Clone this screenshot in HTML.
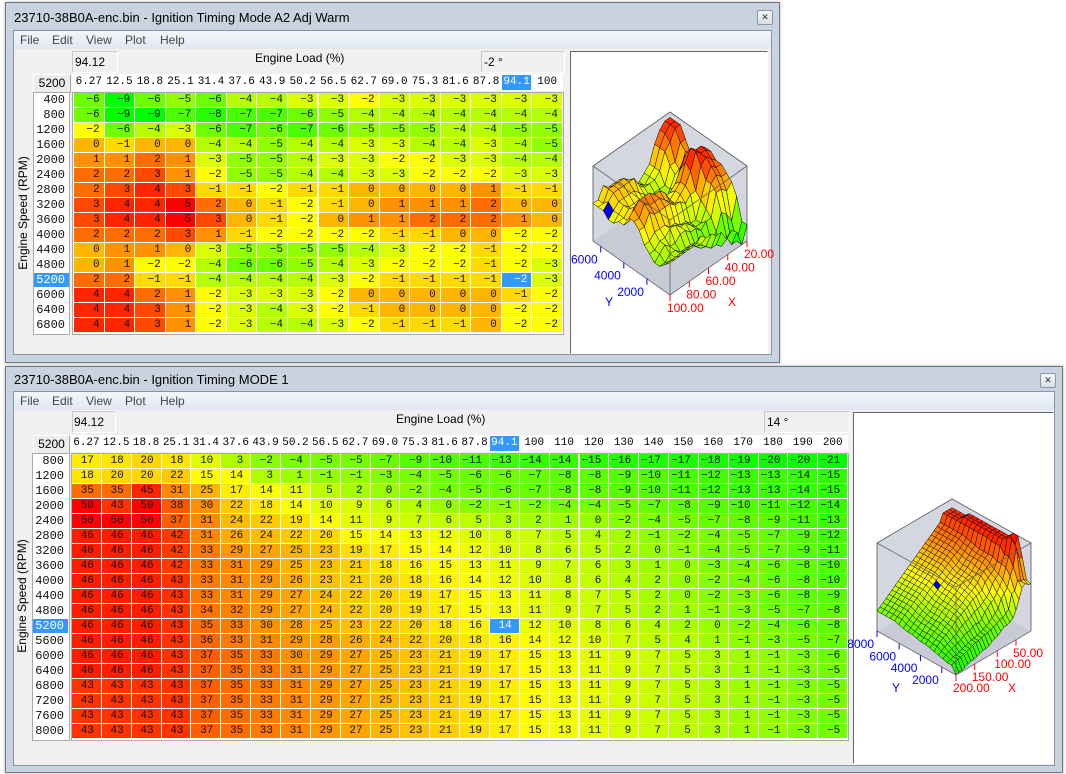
<!DOCTYPE html>
<html><head><meta charset="utf-8">
<style>
body{margin:0;width:1066px;height:774px;background:#fff;position:relative;overflow:hidden;font-family:"Liberation Sans",sans-serif;}
.win{position:absolute;background:#c9d3df;border:1px solid #6b7686;box-shadow:0 0 3px rgba(0,0,0,.3);}
.title{position:absolute;left:8px;top:7px;font-size:13px;color:#000;}
.close{position:absolute;width:14px;height:13px;border:1px solid #8a96a6;background:linear-gradient(#f4f6f9,#d8dee6);font-size:9px;text-align:center;line-height:13px;color:#333;border-radius:2px}
.client{position:absolute;background:#f0f0f0;border:1px solid #8794a6;}
.menu{position:absolute;left:0;right:0;top:0;height:18px;background:linear-gradient(#f4f7fb,#dfe7f1);font-size:12px;color:#444;}
.menu span{position:absolute;top:2px}
.a{position:absolute;white-space:nowrap;}
.box{position:absolute;background:#f0f0f0;border:1px solid #d6d6d6;border-color:#c8c8c8 #fff #fff #c8c8c8;font-size:12px;}
.cell{position:absolute;font-family:"Liberation Mono",monospace;font-size:11px;text-align:right;box-sizing:border-box;padding-right:4px;line-height:15px;height:15px;color:#111;}
.hd{position:absolute;font-family:"Liberation Mono",monospace;font-size:11px;text-align:center;line-height:15px;height:15px;}
</style></head><body>

<div class="win" style="left:5px;top:2px;width:773px;height:359px;">
 <div class="title">23710-38B0A-enc.bin - Ignition Timing Mode A2 Adj Warm</div>
 <div class="close" style="left:751px;top:7px;">✕</div>
</div>
<div class="client" style="left:13px;top:30px;width:757px;height:323px;">
 <div class="menu"><span style="left:6px">File</span><span style="left:38px">Edit</span><span style="left:72px">View</span><span style="left:111px">Plot</span><span style="left:146px">Help</span></div>
</div>
<div class="box" style="left:72px;top:51px;width:42px;height:20px;line-height:20px;padding-left:2px">94.12</div>
<div class="a" style="left:255px;top:51px;font-size:12px">Engine Load (%)</div>
<div class="box" style="left:481px;top:51px;width:80px;height:20px;line-height:20px;padding-left:2px">-2 °</div>
<div class="box" style="left:33px;top:74px;width:36px;height:17px;line-height:17px;text-align:center;background:#ececec;border-color:#fff #aaa #aaa #fff">5200</div>
<div class="a" style="left:72px;top:74px;width:491px;height:17px;background:#fff;"></div>
<div class="a" style="left:33px;top:92px;width:37px;height:243px;background:#fff;border:1px solid #aaa;box-sizing:border-box"></div>
<div class="a" style="left:72px;top:92px;width:492px;height:243px;background:#fff;border:1px solid #aaa;box-sizing:border-box"></div>
<div class="a" style="transform:translate(-50%,-50%) rotate(-90deg);left:23px;top:213px;font-size:12px;">Engine Speed (RPM)</div>
<div class="a" style="left:570px;top:51px;width:198px;height:303px;background:#fff;border:1px solid #333;border-color:#666 #fff #fff #666;box-sizing:border-box"></div>
<svg class="a" id="p1" style="left:0;top:0" width="1066" height="774"></svg>

<div class="win" style="left:5px;top:366px;width:1056px;height:405px;">
 <div class="title" style="top:5px">23710-38B0A-enc.bin - Ignition Timing MODE 1</div>
 <div class="close" style="left:1034px;top:6px;">✕</div>
</div>
<div class="client" style="left:13px;top:391px;width:1040px;height:373px;">
 <div class="menu"><span style="left:6px">File</span><span style="left:38px">Edit</span><span style="left:72px">View</span><span style="left:111px">Plot</span><span style="left:146px">Help</span></div>
</div>
<div class="box" style="left:72px;top:411px;width:41px;height:20px;line-height:20px;padding-left:1px">94.12</div>
<div class="a" style="left:396px;top:412px;font-size:12px">Engine Load (%)</div>
<div class="box" style="left:764px;top:411px;width:82px;height:20px;line-height:20px;padding-left:2px">14 °</div>
<div class="box" style="left:33px;top:435px;width:35px;height:17px;line-height:17px;text-align:center;background:#ececec;border-color:#fff #aaa #aaa #fff">5200</div>
<div class="a" style="left:71px;top:435px;width:777px;height:17px;background:#fff;"></div>
<div class="a" style="left:32px;top:453px;width:38px;height:288px;background:#fff;border:1px solid #aaa;box-sizing:border-box"></div>
<div class="a" style="left:71px;top:453px;width:778px;height:288px;background:#fff;border:1px solid #aaa;box-sizing:border-box"></div>
<div class="a" style="transform:translate(-50%,-50%) rotate(-90deg);left:22px;top:596px;font-size:12px;">Engine Speed (RPM)</div>
<div class="a" style="left:853px;top:412px;width:201px;height:352px;background:#fff;border:1px solid #333;border-color:#666 #fff #fff #666;box-sizing:border-box"></div>
<svg class="a" id="p2" style="left:0;top:0" width="1066" height="774"></svg>

<div id="tables"></div>

<script>
var T1={cols:["6.27","12.5","18.8","25.1","31.4","37.6","43.9","50.2","56.5","62.7","69.0","75.3","81.6","87.8","94.1","100"],
rows:[400,800,1200,1600,2000,2400,2800,3200,3600,4000,4400,4800,5200,6000,6400,6800],
d:[[-6,-9,-6,-5,-6,-4,-4,-3,-3,-2,-3,-3,-3,-3,-3,-3],
[-6,-9,-9,-7,-8,-7,-7,-6,-5,-4,-4,-4,-4,-4,-4,-4],
[-2,-6,-4,-3,-6,-7,-6,-7,-6,-5,-5,-5,-4,-4,-5,-5],
[0,-1,0,0,-4,-4,-5,-4,-4,-3,-3,-4,-4,-3,-4,-5],
[1,1,2,1,-3,-5,-5,-4,-3,-3,-2,-2,-3,-3,-4,-4],
[2,2,3,1,-2,-5,-5,-4,-4,-3,-3,-2,-2,-2,-3,-3],
[2,3,4,3,-1,-1,-2,-1,-1,0,0,0,0,1,-1,-1],
[3,4,4,5,2,0,-1,-2,-1,0,1,1,1,2,0,0],
[3,4,4,5,3,0,-1,-2,0,1,1,2,2,2,1,0],
[2,2,2,3,1,-1,-2,-2,-2,-2,-1,-1,0,0,-2,-2],
[0,1,1,0,-3,-5,-5,-5,-5,-4,-3,-2,-2,-1,-2,-2],
[0,1,-2,-2,-4,-6,-6,-5,-4,-3,-2,-2,-2,-1,-2,-3],
[2,2,-1,-1,-4,-4,-4,-4,-3,-2,-1,-1,-1,-1,-2,-3],
[4,4,2,1,-2,-3,-3,-3,-2,0,0,0,0,0,-1,-2],
[4,4,3,1,-2,-3,-4,-3,-2,-1,0,0,0,0,-2,-2],
[4,4,3,1,-2,-3,-4,-4,-3,-2,-1,-1,-1,0,-2,-2]],
x0:74,cw:30.56,y0:93,rh:15,hy:75,lx:34,lw:35,selC:14,selR:12,pad:4};
var R68=[43,43,43,43,37,35,33,31,29,27,25,23,21,19,17,15,13,11,9,7,5,3,1,-1,-3,-5];
var T2={cols:["6.27","12.5","18.8","25.1","31.4","37.6","43.9","50.2","56.5","62.7","69.0","75.3","81.6","87.8","94.1","100","110","120","130","140","150","160","170","180","190","200"],
rows:[800,1200,1600,2000,2400,2800,3200,3600,4000,4400,4800,5200,5600,6000,6400,6800,7200,7600,8000],
d:[[17,18,20,18,10,3,-2,-4,-5,-5,-7,-9,-10,-11,-13,-14,-14,-15,-16,-17,-17,-18,-19,-20,-20,-21],
[18,20,20,22,15,14,3,1,-1,-1,-3,-4,-5,-6,-6,-7,-8,-8,-9,-10,-11,-12,-13,-13,-14,-15],
[35,35,45,31,25,17,14,11,5,2,0,-2,-4,-5,-6,-7,-8,-8,-9,-10,-11,-12,-13,-13,-14,-15],
[50,43,50,38,30,22,18,14,10,9,6,4,0,-2,-1,-2,-4,-4,-5,-7,-8,-9,-10,-11,-12,-14],
[50,50,50,37,31,24,22,19,14,11,9,7,6,5,3,2,1,0,-2,-4,-5,-7,-8,-9,-11,-13],
[46,46,46,42,31,26,24,22,20,15,14,13,12,10,8,7,5,4,2,-1,-2,-4,-5,-7,-9,-12],
[46,46,46,42,33,29,27,25,23,19,17,15,14,12,10,8,6,5,2,0,-1,-4,-5,-7,-9,-11],
[46,46,46,42,33,31,29,25,23,21,18,16,15,13,11,9,7,6,3,1,0,-3,-4,-6,-8,-10],
[46,46,46,43,33,31,29,26,23,21,20,18,16,14,12,10,8,6,4,2,0,-2,-4,-6,-8,-10],
[46,46,46,43,33,31,29,27,24,22,20,19,17,15,13,11,8,7,5,2,0,-2,-3,-6,-8,-9],
[46,46,46,43,34,32,29,27,24,22,20,19,17,15,13,11,9,7,5,2,1,-1,-3,-5,-7,-8],
[46,46,46,43,35,33,30,28,25,23,22,20,18,16,14,12,10,8,6,4,2,0,-2,-4,-6,-8],
[46,46,46,43,36,33,31,29,28,26,24,22,20,18,16,14,12,10,7,5,4,1,-1,-3,-5,-7],
[46,46,46,43,37,35,33,30,29,27,25,23,21,19,17,15,13,11,9,7,5,3,1,-1,-3,-6],
[46,46,46,43,37,35,33,31,29,27,25,23,21,19,17,15,13,11,9,7,5,3,1,-1,-3,-5],
R68,R68,R68,R68],
x0:72,cw:29.85,y0:454,rh:15,hy:436,lx:33,lw:35,selC:14,selR:11,pad:7};

function col(v,mn,mx){var t=(v-mn)/(mx-mn);var h=120*(1-t);return "hsl("+h.toFixed(1)+",100%,50%)";}
var out="";
function table(T,mn,mx){
 var nc=T.cols.length,nr=T.rows.length;
 for(var j=0;j<nc;j++){var x=T.x0+j*T.cw;var s=(j==T.selC);
  out+='<div class="hd" style="left:'+x.toFixed(1)+'px;top:'+T.hy+'px;width:'+(T.cw-1).toFixed(1)+'px;'+(s?'background:#3399ff;color:#fff':'')+'">'+T.cols[j]+'</div>';}
 for(var i=0;i<nr;i++){var y=T.y0+i*T.rh;var s=(i==T.selR);
  out+='<div class="cell" style="font-size:12px;left:'+T.lx+'px;top:'+y+'px;width:'+T.lw+'px;height:14px;line-height:14px;'+(s?'background:#3399ff;color:#fff':'')+'">'+T.rows[i]+'</div>';
  for(var j=0;j<nc;j++){var x=T.x0+j*T.cw;var v=T.d[i][j];var sel=(i==T.selR&&j==T.selC);
   out+='<div class="cell" style="padding-right:'+T.pad+'px;left:'+x.toFixed(1)+'px;top:'+y+'px;width:'+(T.cw-1).toFixed(1)+'px;height:14px;line-height:14px;background:'+(sel?'#3399ff;color:#fff':col(v,mn,mx))+'">'+(v<0?'\u2212'+(-v):v)+'</div>';}}
}
table(T1,-9,5);table(T2,-21,50);
document.getElementById('tables').innerHTML=out;

function plot(id,T,mn,mx,F,R,L,H,xl,yl,sel){
 var s="";var nc=T.cols.length,nr=T.rows.length;
 function P(u,v,w){return [F[0]+u*(R[0]-F[0])+v*(L[0]-F[0]), F[1]+u*(R[1]-F[1])+v*(L[1]-F[1])-w*H];}
 function pt(p){return p[0].toFixed(1)+","+p[1].toFixed(1);}
 var top=P(1,1,1),lt=P(0,1,1),rt=P(1,0,1),ft=P(0,0,1),fb=P(0,0,0),lb=P(0,1,0),rb=P(1,0,0),bb=P(1,1,0);
 s+='<polygon points="'+pt(lb)+' '+pt(lt)+' '+pt(top)+' '+pt(bb)+'" fill="#d4d6e0"/>';
 s+='<polygon points="'+pt(rb)+' '+pt(rt)+' '+pt(top)+' '+pt(bb)+'" fill="#d4d6e0"/>';
 s+='<polygon points="'+pt(fb)+' '+pt(lb)+' '+pt(bb)+' '+pt(rb)+'" fill="#c8cad6"/>';
 s+='<g stroke="#555" stroke-width="0.8" fill="none"><polyline points="'+pt(lb)+' '+pt(lt)+' '+pt(top)+' '+pt(rt)+' '+pt(rb)+'"/></g>';
 var cells=[];
 for(var i=0;i<nr-1;i++)for(var j=0;j<nc-1;j++){cells.push([i,j]);}
 function U(j){return 1-j/(nc-1);} function V(i){return i/(nr-1);}
 function W(v){return (v-mn)/(mx-mn);}
 cells.sort(function(a,b){return (U(b[1])+V(b[0]))-(U(a[1])+V(a[0]));});
 cells.forEach(function(c){var i=c[0],j=c[1];
  var a=T.d[i][j],b=T.d[i][j+1],cc=T.d[i+1][j+1],d=T.d[i+1][j];
  var avg=(a+b+cc+d)/4;
  var f=(i==sel[0]&&j==sel[1])?"#0000ee":col(avg,mn,mx);
  s+='<polygon points="'+pt(P(U(j),V(i),W(a)))+' '+pt(P(U(j+1),V(i),W(b)))+' '+pt(P(U(j+1),V(i+1),W(cc)))+' '+pt(P(U(j),V(i+1),W(d)))+'" fill="'+f+'" stroke="#000" stroke-width="0.5"/>';});
 s+='<g stroke="#666" stroke-width="0.8" fill="none"><polyline points="'+pt(lt)+' '+pt(ft)+' '+pt(rt)+'"/><polyline points="'+pt(ft)+' '+pt(fb)+'"/><polyline points="'+pt(lb)+' '+pt(fb)+' '+pt(rb)+'"/></g>';
 xl.forEach(function(q){var p=P(q[0],0,0);s+='<line x1="'+p[0]+'" y1="'+p[1]+'" x2="'+p[0]+'" y2="'+(p[1]+6)+'" stroke="red"/><text x="'+(p[0]-3)+'" y="'+(p[1]+17)+'" fill="red" font-size="12" font-family="Liberation Sans">'+q[1]+'</text>';});
 yl.forEach(function(q){var p=P(0,q[0],0);s+='<line x1="'+p[0]+'" y1="'+p[1]+'" x2="'+p[0]+'" y2="'+(p[1]+6)+'" stroke="blue"/><text x="'+(p[0]-3)+'" y="'+(p[1]+17)+'" fill="blue" font-size="12" font-family="Liberation Sans" text-anchor="end">'+q[1]+'</text>';});
 document.getElementById(id).innerHTML=s;
}
plot('p1',T1,-9,5,[670,295],[747,241],[593,241],75,
 [[0,"100.00"],[0.25,"80.00"],[0.5,"60.00"],[0.75,"40.00"],[1,"20.00"]],
 [[0.3,"2000"],[0.6,"4000"],[0.9,"6000"]],[12,14]);
plot('p2',T2,-21,50,[956,675],[1031,631],[877,631],88,
 [[0,"200.00"],[0.25,"150.00"],[0.55,"100.00"],[0.8,"50.00"]],
 [[0.18,"2000"],[0.45,"4000"],[0.72,"6000"],[1,"8000"]],[11,14]);
var s1=document.getElementById('p1');
s1.innerHTML+='<text x="605" y="306" fill="blue" font-size="12" font-family="Liberation Sans">Y</text><text x="728" y="306" fill="red" font-size="12" font-family="Liberation Sans">X</text>';
var s2=document.getElementById('p2');
s2.innerHTML+='<text x="892" y="692" fill="blue" font-size="12" font-family="Liberation Sans">Y</text><text x="1008" y="692" fill="red" font-size="12" font-family="Liberation Sans">X</text>';
</script>
</body></html>
